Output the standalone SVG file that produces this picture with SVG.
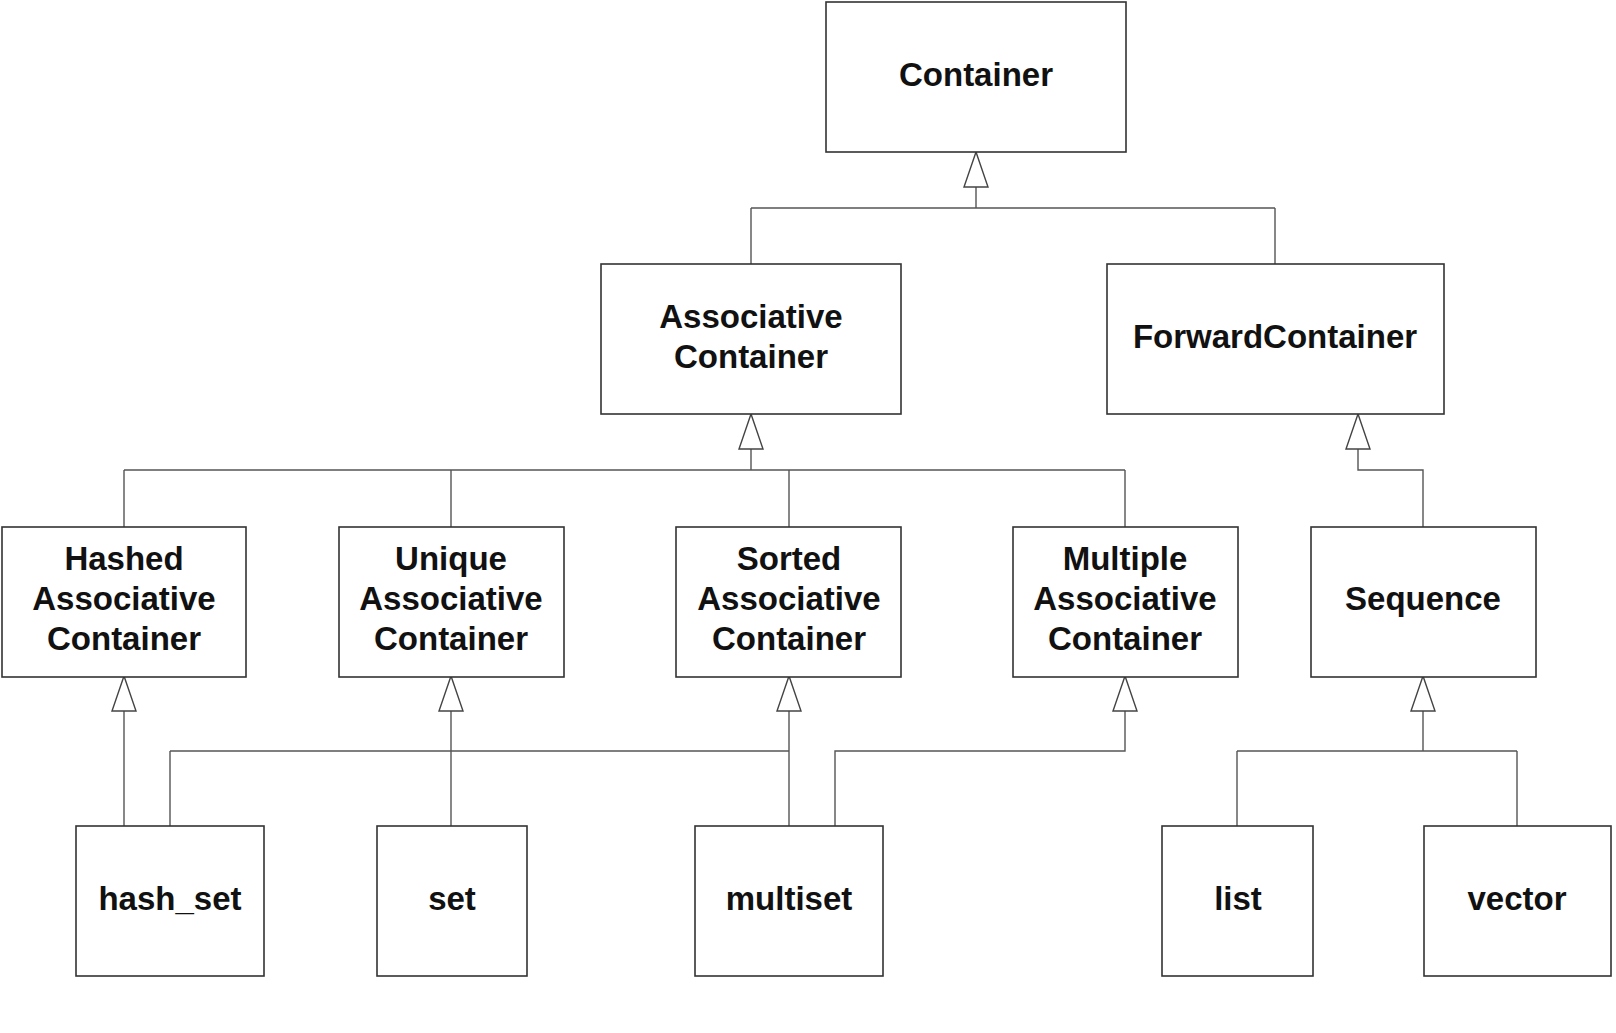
<svg xmlns="http://www.w3.org/2000/svg" width="1616" height="1033" viewBox="0 0 1616 1033">
<style>
.box{fill:#fff;stroke:#333;stroke-width:1.6}
.lbl{font-family:"Liberation Sans",Arial,sans-serif;font-weight:bold;font-size:33px;fill:#111;text-anchor:middle}
.ln{fill:none;stroke:#555;stroke-width:1.4}
.tri{fill:#fff;stroke:#444;stroke-width:1.4}
</style>
<rect width="1616" height="1033" fill="#fff"/>
<g id="connectors">
<path class="ln" d="M976 187V208M751 208H1275M751 208V264M1275 208V264"/>
<polygon class="tri" points="976,152 964,187 988,187"/>
<path class="ln" d="M751 449V470M124 470H1125M124 470V527M451 470V527M789 470V527M1125 470V527"/>
<polygon class="tri" points="751,414 739,449 763,449"/>
<path class="ln" d="M1358 449V470H1423V527"/>
<polygon class="tri" points="1358,414 1346,449 1370,449"/>
<path class="ln" d="M124 711V826"/>
<polygon class="tri" points="124,676 112,711 136,711"/>
<path class="ln" d="M451 711V826"/>
<polygon class="tri" points="451,676 439,711 463,711"/>
<path class="ln" d="M789 711V826M170 751H789M170 751V826"/>
<polygon class="tri" points="789,676 777,711 801,711"/>
<path class="ln" d="M1125 711V751H835V826"/>
<polygon class="tri" points="1125,676 1113,711 1137,711"/>
<path class="ln" d="M1423 711V751M1237 751H1517M1237 751V826M1517 751V826"/>
<polygon class="tri" points="1423,676 1411,711 1435,711"/>
</g>
<g id="container"><rect class="box" x="826" y="2" width="300" height="150"/><text class="lbl" x="976" y="86">Container</text></g>
<g id="associative"><rect class="box" x="601" y="264" width="300" height="150"/><text class="lbl" x="751" y="328">Associative</text><text class="lbl" x="751" y="368">Container</text></g>
<g id="forward"><rect class="box" x="1107" y="264" width="337" height="150"/><text class="lbl" x="1275" y="348">ForwardContainer</text></g>
<g id="hashed"><rect class="box" x="2" y="527" width="244" height="150"/><text class="lbl" x="124" y="570">Hashed</text><text class="lbl" x="124" y="610">Associative</text><text class="lbl" x="124" y="650">Container</text></g>
<g id="unique"><rect class="box" x="339" y="527" width="225" height="150"/><text class="lbl" x="451" y="570">Unique</text><text class="lbl" x="451" y="610">Associative</text><text class="lbl" x="451" y="650">Container</text></g>
<g id="sorted"><rect class="box" x="676" y="527" width="225" height="150"/><text class="lbl" x="789" y="570">Sorted</text><text class="lbl" x="789" y="610">Associative</text><text class="lbl" x="789" y="650">Container</text></g>
<g id="multiple"><rect class="box" x="1013" y="527" width="225" height="150"/><text class="lbl" x="1125" y="570">Multiple</text><text class="lbl" x="1125" y="610">Associative</text><text class="lbl" x="1125" y="650">Container</text></g>
<g id="sequence"><rect class="box" x="1311" y="527" width="225" height="150"/><text class="lbl" x="1423" y="610">Sequence</text></g>
<g id="hash_set"><rect class="box" x="76" y="826" width="188" height="150"/><text class="lbl" x="170" y="910">hash_set</text></g>
<g id="set"><rect class="box" x="377" y="826" width="150" height="150"/><text class="lbl" x="452" y="910">set</text></g>
<g id="multiset"><rect class="box" x="695" y="826" width="188" height="150"/><text class="lbl" x="789" y="910">multiset</text></g>
<g id="list"><rect class="box" x="1162" y="826" width="151" height="150"/><text class="lbl" x="1238" y="910">list</text></g>
<g id="vector"><rect class="box" x="1424" y="826" width="187" height="150"/><text class="lbl" x="1517" y="910">vector</text></g>
</svg>
